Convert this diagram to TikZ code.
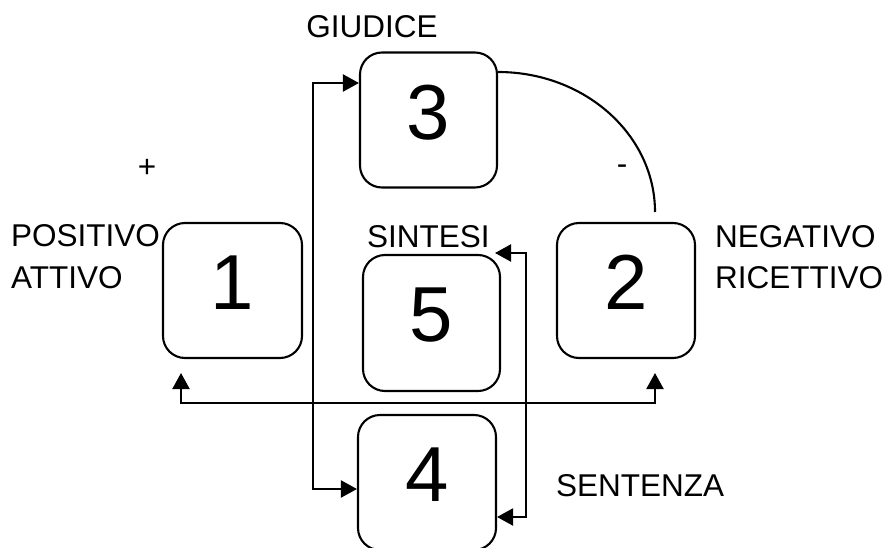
\documentclass[tikz,border=0pt]{standalone}
\usepackage{fontspec}
\setmainfont{Liberation Sans}
\usetikzlibrary{arrows.meta}
\begin{document}
\begin{tikzpicture}[x=1pt,y=-1pt,
  box/.style={draw,line width=2.1pt,rounded corners=22pt,minimum width=137pt,minimum height=135pt,inner sep=0pt,
    font=\fontsize{78}{80}\selectfont,text depth=16pt},
  lbl/.style={font=\fontsize{31.5}{36}\selectfont,inner sep=0pt},
  conn/.style={line width=2.1pt},
  arr/.style={conn,{Triangle[length=16pt,width=17pt]}-{Triangle[length=16pt,width=17pt]}}]
\clip (0,0) rectangle (883,548);
\fill[white] (0,0) rectangle (883,548);
% boxes
\node[box] (b3) at (428.5,120) {3};
\node[box,minimum width=139pt] (b1) at (232.5,290.5) {1};
\node[box,minimum width=138pt] (b2) at (626,290.5) {2};
\node[box,minimum height=136pt] (b5) at (431.5,323) {5};
\node[box,minimum width=138pt] (b4) at (427,482.5) {4};
% labels
\node[lbl,anchor=base] (giudice) at (372,38) {GIUDICE};
\node[lbl,anchor=base west] (pos) at (11,246) {POSITIVO};
\node[lbl,anchor=base west] (att) at (11,288) {ATTIVO};
\node[lbl,anchor=base west] (neg) at (715,247) {NEGATIVO};
\node[lbl,anchor=base west] (ric) at (715,288) {RICETTIVO};
\node[lbl,anchor=base west] (sint) at (367,247) {SINTESI};
\node[lbl,anchor=base west] (sent) at (556,496) {SENTENZA};
\node[lbl] (plus) at (147,168) {+};
\node[lbl] (minus) at (622,170) {-};
% coordinates
\coordinate (L1) at (313,83);
\coordinate (L2) at (313,489);
\coordinate (R1) at (526,253);
\coordinate (R2) at (526,517);
\coordinate (S) at (495,253);
\coordinate (A1) at (181,373);
\coordinate (A2) at (655,373);
\coordinate (H) at (0,403);
\coordinate (C1) at (498,72);
\coordinate (C2) at (655,212);
% connectors
\draw[arr] (b3.west |- L1) -- (L1) -- (L2) -- (b4.west |- L2);
\draw[arr] (S) -- (R1) -- (R2) -- (b4.east |- R2);
\draw[arr] (A1) -- (A1 |- H) -- (A2 |- H) -- (A2);
\draw[conn] (C1) .. controls (585,72) and (655,135) .. (C2);
\end{tikzpicture}
\end{document}
